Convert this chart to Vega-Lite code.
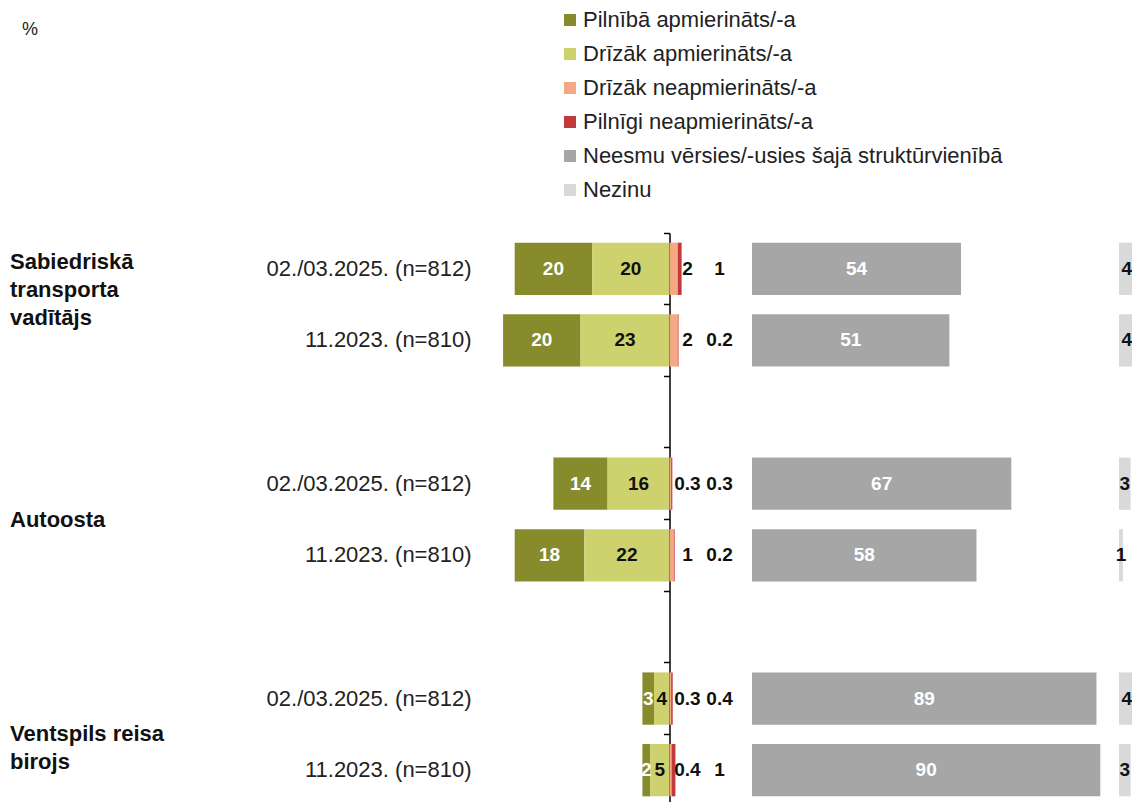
{
  "$schema": "https://vega.github.io/schema/vega-lite/v6.json",
  "padding": {"left": 10, "top": 9, "right": 0, "bottom": 0},
  "bounds": "flush",
  "spacing": 0,
  "title": {"text": "%", "anchor": "start", "fontSize": 18, "fontWeight": "normal", "font": "Liberation Sans", "dx": 12, "offset": -30, "color": "#222"},
  "datasets": {
    "main": [
      {"row": "A1", "period": "02./03.2025. (n=812)", "category": "Pilnībā apmierināts/-a", "value": 20},
      {"row": "A1", "period": "02./03.2025. (n=812)", "category": "Drīzāk apmierināts/-a", "value": 20},
      {"row": "A1", "period": "02./03.2025. (n=812)", "category": "Drīzāk neapmierināts/-a", "value": 2},
      {"row": "A1", "period": "02./03.2025. (n=812)", "category": "Pilnīgi neapmierināts/-a", "value": 1},
      {"row": "A1", "period": "02./03.2025. (n=812)", "category": "Neesmu vērsies/-usies šajā struktūrvienībā", "value": 54},
      {"row": "A1", "period": "02./03.2025. (n=812)", "category": "Nezinu", "value": 4},
      {"row": "A2", "period": "11.2023. (n=810)", "category": "Pilnībā apmierināts/-a", "value": 20},
      {"row": "A2", "period": "11.2023. (n=810)", "category": "Drīzāk apmierināts/-a", "value": 23},
      {"row": "A2", "period": "11.2023. (n=810)", "category": "Drīzāk neapmierināts/-a", "value": 2},
      {"row": "A2", "period": "11.2023. (n=810)", "category": "Pilnīgi neapmierināts/-a", "value": 0.2},
      {"row": "A2", "period": "11.2023. (n=810)", "category": "Neesmu vērsies/-usies šajā struktūrvienībā", "value": 51},
      {"row": "A2", "period": "11.2023. (n=810)", "category": "Nezinu", "value": 4},
      {"row": "B1", "period": "02./03.2025. (n=812)", "category": "Pilnībā apmierināts/-a", "value": 14},
      {"row": "B1", "period": "02./03.2025. (n=812)", "category": "Drīzāk apmierināts/-a", "value": 16},
      {"row": "B1", "period": "02./03.2025. (n=812)", "category": "Drīzāk neapmierināts/-a", "value": 0.3},
      {"row": "B1", "period": "02./03.2025. (n=812)", "category": "Pilnīgi neapmierināts/-a", "value": 0.3},
      {"row": "B1", "period": "02./03.2025. (n=812)", "category": "Neesmu vērsies/-usies šajā struktūrvienībā", "value": 67},
      {"row": "B1", "period": "02./03.2025. (n=812)", "category": "Nezinu", "value": 3},
      {"row": "B2", "period": "11.2023. (n=810)", "category": "Pilnībā apmierināts/-a", "value": 18},
      {"row": "B2", "period": "11.2023. (n=810)", "category": "Drīzāk apmierināts/-a", "value": 22},
      {"row": "B2", "period": "11.2023. (n=810)", "category": "Drīzāk neapmierināts/-a", "value": 1},
      {"row": "B2", "period": "11.2023. (n=810)", "category": "Pilnīgi neapmierināts/-a", "value": 0.2},
      {"row": "B2", "period": "11.2023. (n=810)", "category": "Neesmu vērsies/-usies šajā struktūrvienībā", "value": 58},
      {"row": "B2", "period": "11.2023. (n=810)", "category": "Nezinu", "value": 1},
      {"row": "C1", "period": "02./03.2025. (n=812)", "category": "Pilnībā apmierināts/-a", "value": 3},
      {"row": "C1", "period": "02./03.2025. (n=812)", "category": "Drīzāk apmierināts/-a", "value": 4},
      {"row": "C1", "period": "02./03.2025. (n=812)", "category": "Drīzāk neapmierināts/-a", "value": 0.3},
      {"row": "C1", "period": "02./03.2025. (n=812)", "category": "Pilnīgi neapmierināts/-a", "value": 0.4},
      {"row": "C1", "period": "02./03.2025. (n=812)", "category": "Neesmu vērsies/-usies šajā struktūrvienībā", "value": 89},
      {"row": "C1", "period": "02./03.2025. (n=812)", "category": "Nezinu", "value": 4},
      {"row": "C2", "period": "11.2023. (n=810)", "category": "Pilnībā apmierināts/-a", "value": 2},
      {"row": "C2", "period": "11.2023. (n=810)", "category": "Drīzāk apmierināts/-a", "value": 5},
      {"row": "C2", "period": "11.2023. (n=810)", "category": "Drīzāk neapmierināts/-a", "value": 0.4},
      {"row": "C2", "period": "11.2023. (n=810)", "category": "Pilnīgi neapmierināts/-a", "value": 1},
      {"row": "C2", "period": "11.2023. (n=810)", "category": "Neesmu vērsies/-usies šajā struktūrvienībā", "value": 90},
      {"row": "C2", "period": "11.2023. (n=810)", "category": "Nezinu", "value": 3}
    ],
    "groups": [
      {"row": "A1", "label": ["Sabiedriskā", "transporta", "vadītājs"]},
      {"row": "B1", "label": ["Autoosta"]},
      {"row": "C1", "label": ["Ventspils reisa", "birojs"]}
    ]
  },
  "data": {"name": "main"},
  "hconcat": [
    {
      "width": 465.5,
      "height": 573,
      "layer": [
        {
          "data": {"name": "groups"},
          "transform": [{"filter": "datum.row === 'A1'"}],
          "mark": {"type": "text", "align": "left", "baseline": "middle", "fontSize": 22, "fontWeight": "bold", "lineHeight": 28, "font": "Liberation Sans", "color": "#111"},
          "encoding": {
            "x": {"datum": 0, "type": "quantitative", "scale": {"domain": [0, 1], "nice": false}, "axis": null},
            "y": {"field": "row", "type": "nominal", "bandPosition": 0.4, "scale": {"type": "band", "domain": ["A1", "A2", "gap1", "B1", "B2", "gap2", "C1", "C2"], "paddingInner": 0, "paddingOuter": 0}, "axis": null},
            "text": {"field": "label", "type": "nominal"}
          }
        },
        {
          "data": {"name": "groups"},
          "transform": [{"filter": "datum.row !== 'A1'"}],
          "mark": {"type": "text", "align": "left", "baseline": "middle", "fontSize": 22, "fontWeight": "bold", "lineHeight": 28, "font": "Liberation Sans", "color": "#111"},
          "encoding": {
            "x": {"datum": 0, "type": "quantitative"},
            "y": {"field": "row", "type": "nominal", "bandPosition": 1},
            "text": {"field": "label", "type": "nominal"}
          }
        },
        {
          "transform": [{"filter": "datum.category === 'Nezinu'"}],
          "mark": {"type": "text", "align": "right", "baseline": "middle", "fontSize": 22, "font": "Liberation Sans", "dx": -4, "color": "#222"},
          "encoding": {
            "x": {"datum": 1, "type": "quantitative"},
            "y": {"field": "row", "type": "nominal"},
            "text": {"field": "period", "type": "nominal"}
          }
        }
      ]
    },
    {
      "width": 193.5,
      "height": 573,
      "transform": [{"filter": "datum.category === 'Pilnībā apmierināts/-a' || datum.category === 'Drīzāk apmierināts/-a'"}],
      "layer": [
        {
          "mark": {"type": "bar", "height": {"band": 0.73}},
          "encoding": {
            "x": {"field": "value", "type": "quantitative", "stack": "zero", "scale": {"domain": [0, 50], "nice": false, "reverse": true}, "axis": null},
            "y": {"field": "row", "type": "nominal", "scale": {"type": "band", "domain": ["A1", "A2", "gap1", "B1", "B2", "gap2", "C1", "C2"], "paddingInner": 0, "paddingOuter": 0},
              "axis": {"orient": "right", "labels": false, "title": null, "ticks": true, "tickSize": -6, "tickWidth": 1.5, "tickColor": "#000", "domainColor": "#000", "domainWidth": 1.5, "bandPosition": 0, "grid": false}},
            "color": {"field": "category", "type": "nominal", "scale": {"domain": ["Pilnībā apmierināts/-a", "Drīzāk apmierināts/-a", "Drīzāk neapmierināts/-a", "Pilnīgi neapmierināts/-a", "Neesmu vērsies/-usies šajā struktūrvienībā", "Nezinu"], "range": ["#878b2b", "#cdd16e", "#f4a984", "#c0393b", "#a6a6a6", "#d9d9d9"]}},
            "order": {"field": "category", "sort": "ascending"}
          }
        },
        {
          "mark": {"type": "text", "fontSize": 19, "fontWeight": "bold", "font": "Liberation Sans", "baseline": "middle"},
          "encoding": {
            "x": {"field": "value", "type": "quantitative", "stack": "zero", "bandPosition": 0.5},
            "y": {"field": "row", "type": "nominal"},
            "detail": {"field": "category"},
            "order": {"field": "category", "sort": "ascending"},
            "text": {"field": "value", "type": "quantitative"},
            "color": {"condition": {"test": "datum.category === 'Pilnībā apmierināts/-a'", "value": "#ffffff"}, "value": "#111111"}
          }
        }
      ]
    },
    {
      "width": 81.3,
      "height": 573,
      "transform": [{"filter": "datum.category === 'Drīzāk neapmierināts/-a' || datum.category === 'Pilnīgi neapmierināts/-a'"}],
      "layer": [
        {
          "mark": {"type": "bar", "height": {"band": 0.73}},
          "encoding": {
            "x": {"field": "value", "type": "quantitative", "stack": "zero", "scale": {"domain": [0, 21], "nice": false}, "axis": null},
            "y": {"field": "row", "type": "nominal", "scale": {"type": "band", "domain": ["A1", "A2", "gap1", "B1", "B2", "gap2", "C1", "C2"], "paddingInner": 0, "paddingOuter": 0}, "axis": null},
            "color": {"field": "category", "type": "nominal", "scale": {"domain": ["Pilnībā apmierināts/-a", "Drīzāk apmierināts/-a", "Drīzāk neapmierināts/-a", "Pilnīgi neapmierināts/-a", "Neesmu vērsies/-usies šajā struktūrvienībā", "Nezinu"], "range": ["#878b2b", "#cdd16e", "#f4a984", "#c0393b", "#a6a6a6", "#d9d9d9"]}},
            "order": {"field": "category", "sort": "ascending"}
          }
        },
        {
          "transform": [{"filter": "datum.category === 'Drīzāk neapmierināts/-a'"}],
          "mark": {"type": "text", "fontSize": 19, "fontWeight": "bold", "font": "Liberation Sans", "baseline": "middle", "color": "#111"},
          "encoding": {
            "x": {"datum": 4.5, "type": "quantitative"},
            "y": {"field": "row", "type": "nominal"},
            "text": {"field": "value", "type": "quantitative"}
          }
        },
        {
          "transform": [{"filter": "datum.category === 'Pilnīgi neapmierināts/-a'"}],
          "mark": {"type": "text", "fontSize": 19, "fontWeight": "bold", "font": "Liberation Sans", "baseline": "middle", "color": "#111"},
          "encoding": {
            "x": {"datum": 12.8, "type": "quantitative"},
            "y": {"field": "row", "type": "nominal"},
            "text": {"field": "value", "type": "quantitative"}
          }
        }
      ]
    },
    {
      "width": 366.7,
      "height": 573,
      "transform": [{"filter": "datum.category === 'Neesmu vērsies/-usies šajā struktūrvienībā'"}],
      "layer": [
        {
          "mark": {"type": "bar", "height": {"band": 0.73}},
          "encoding": {
            "x": {"field": "value", "type": "quantitative", "stack": "zero", "scale": {"domain": [0, 94.75], "nice": false}, "axis": null},
            "y": {"field": "row", "type": "nominal", "scale": {"type": "band", "domain": ["A1", "A2", "gap1", "B1", "B2", "gap2", "C1", "C2"], "paddingInner": 0, "paddingOuter": 0}, "axis": null},
            "color": {"field": "category", "type": "nominal", "scale": {"domain": ["Pilnībā apmierināts/-a", "Drīzāk apmierināts/-a", "Drīzāk neapmierināts/-a", "Pilnīgi neapmierināts/-a", "Neesmu vērsies/-usies šajā struktūrvienībā", "Nezinu"], "range": ["#878b2b", "#cdd16e", "#f4a984", "#c0393b", "#a6a6a6", "#d9d9d9"]}}
          }
        },
        {
          "mark": {"type": "text", "fontSize": 19, "fontWeight": "bold", "font": "Liberation Sans", "baseline": "middle", "color": "#ffffff"},
          "encoding": {
            "x": {"field": "value", "type": "quantitative", "stack": "zero", "bandPosition": 0.5},
            "y": {"field": "row", "type": "nominal"},
            "detail": {"field": "category"},
            "text": {"field": "value", "type": "quantitative"}
          }
        }
      ]
    },
    {
      "width": 15.5,
      "height": 573,
      "transform": [{"filter": "datum.category === 'Nezinu'"}],
      "layer": [
        {
          "mark": {"type": "bar", "height": {"band": 0.73}},
          "encoding": {
            "x": {"field": "value", "type": "quantitative", "stack": "zero", "scale": {"domain": [0, 4], "nice": false}, "axis": null},
            "y": {"field": "row", "type": "nominal", "scale": {"type": "band", "domain": ["A1", "A2", "gap1", "B1", "B2", "gap2", "C1", "C2"], "paddingInner": 0, "paddingOuter": 0}, "axis": null},
            "color": {"field": "category", "type": "nominal", "scale": {"domain": ["Pilnībā apmierināts/-a", "Drīzāk apmierināts/-a", "Drīzāk neapmierināts/-a", "Pilnīgi neapmierināts/-a", "Neesmu vērsies/-usies šajā struktūrvienībā", "Nezinu"], "range": ["#878b2b", "#cdd16e", "#f4a984", "#c0393b", "#a6a6a6", "#d9d9d9"]}}
          }
        },
        {
          "mark": {"type": "text", "fontSize": 19, "fontWeight": "bold", "font": "Liberation Sans", "baseline": "middle", "color": "#111"},
          "encoding": {
            "x": {"field": "value", "type": "quantitative", "stack": "zero", "bandPosition": 0.5},
            "y": {"field": "row", "type": "nominal"},
            "detail": {"field": "category"},
            "text": {"field": "value", "type": "quantitative"}
          }
        }
      ]
    }
  ],
  "resolve": {"scale": {"color": "shared"}},
  "config": {
    "view": {"stroke": null},
    "font": "Liberation Sans",
    "legend": {
      "orient": "none",
      "legendX": 549,
      "legendY": -224,
      "title": null,
      "symbolType": "square",
      "symbolSize": 144,
      "symbolStrokeWidth": 0,
      "labelFontSize": 22,
      "labelFont": "Liberation Sans",
      "labelColor": "#222",
      "labelOffset": 2,
      "labelLimit": 600,
      "rowPadding": 12
    }
  }
}
